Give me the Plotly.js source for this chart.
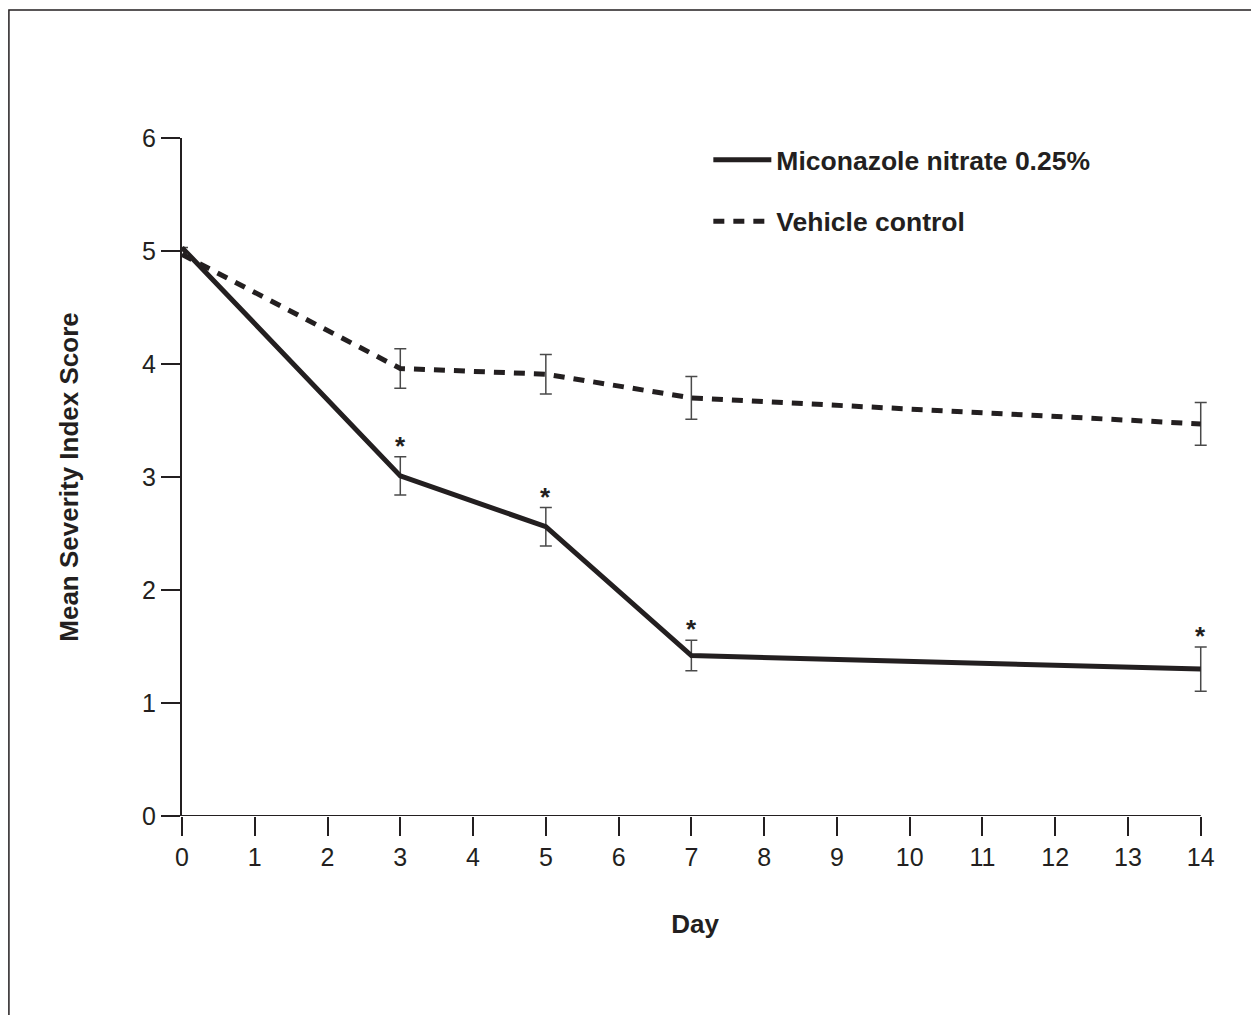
<!DOCTYPE html>
<html>
<head>
<meta charset="utf-8">
<script src="https://cdn.plot.ly/plotly-3.0.1.min.js"></script>
<style>html,body{margin:0;padding:0;background:#fff;}#chart{width:1251px;height:1015px;}</style>
</head>
<body>
<div id="chart"></div>
<script>
const days = [0, 3, 5, 7, 14];
const xTicks = [0,1,2,3,4,5,6,7,8,9,10,11,12,13,14];
const yTicks = [0,1,2,3,4,5,6];
const miconName = "Miconazole nitrate 0.25%";
const miconMean = [5.03, 3.01, 2.56, 1.42, 1.30];
const miconErr  = [0, 0.17, 0.17, 0.135, 0.195];
const miconSig  = [false, true, true, true, true];
const vehicleName = "Vehicle control";
const vehicleMean = [4.97, 3.96, 3.91, 3.70, 3.47];
const vehicleErr  = [0, 0.175, 0.175, 0.19, 0.19];
const xTitle = "Day";
const yTitle = "Mean Severity Index Score";

const ink = "#231f20";
const font = "Liberation Sans, Arial, Helvetica, sans-serif";
const xMax = xTicks[xTicks.length - 1];

const traces = [
  {
    x: days, y: miconMean, name: miconName, type: "scatter", mode: "lines",
    legendgroup: "a",
    line: {color: ink, width: 5},
    error_y: {type: "data", array: miconErr, visible: true, color: "#4a4a4a", thickness: 1.5, width: 6},
    cliponaxis: false
  },
  {
    x: days, y: vehicleMean, name: vehicleName, type: "scatter", mode: "lines",
    legendgroup: "b",
    line: {color: ink, width: 5, dash: "11px,9px"},
    error_y: {type: "data", array: vehicleErr, visible: true, color: "#4a4a4a", thickness: 1.5, width: 6},
    cliponaxis: false
  }
];

const annotations = [];
days.forEach((d, i) => {
  if (miconSig[i]) {
    annotations.push({
      x: d, y: miconMean[i] + miconErr[i], xref: "x", yref: "y",
      text: "<b>*</b>", showarrow: false, yanchor: "middle", yshift: 11,
      font: {family: font, size: 26, color: ink}
    });
  }
});

const layout = {
  width: 1251, height: 1015,
  margin: {l: 182, r: 43, t: 138, b: 199},
  paper_bgcolor: "#fff", plot_bgcolor: "#fff",
  showlegend: true,
  legend: {
    x: 0.513, y: 1.003, xanchor: "left", yanchor: "top",
    font: {family: font, size: 26.5, color: ink, weight: "bold"},
    traceorder: "grouped", tracegroupgap: 24,
    itemwidth: 58,
    bgcolor: "rgba(0,0,0,0)"
  },
  xaxis: {
    range: [0, 14.1], tickvals: xTicks, ticktext: xTicks.map(String),
    showgrid: false, zeroline: false, showline: false,
    ticks: "outside", ticklen: 19, tickwidth: 2, tickcolor: ink,
    tickfont: {family: font, size: 25, color: ink},
    title: {text: "<b>" + xTitle + "</b>", font: {family: font, size: 26, color: ink}, standoff: 44}
  },
  yaxis: {
    range: [0, 6], tickvals: yTicks, ticktext: yTicks.map(String),
    showgrid: false, zeroline: false, showline: true, linecolor: ink, linewidth: 2,
    ticks: "outside", ticklen: 19, tickwidth: 2, tickcolor: ink,
    tickfont: {family: font, size: 25, color: ink},
    title: {text: "<b>" + yTitle + "</b>", font: {family: font, size: 26, color: ink}, standoff: 56}
  },
  annotations: annotations,
  shapes: [
    {
      type: "line", xref: "x", yref: "y", x0: 0, x1: xMax, y0: 0, y1: 0,
      line: {color: ink, width: 2}, layer: "below"
    },
    {
      type: "rect", xref: "paper", yref: "paper",
      x0: -0.1687, x1: 1.2, y0: -0.5, y1: 1.1888,
      line: {color: ink, width: 1.5}, fillcolor: "rgba(0,0,0,0)", layer: "below"
    }
  ]
};

Plotly.newPlot("chart", traces, layout, {displayModeBar: false, staticPlot: true});
</script>
</body>
</html>
